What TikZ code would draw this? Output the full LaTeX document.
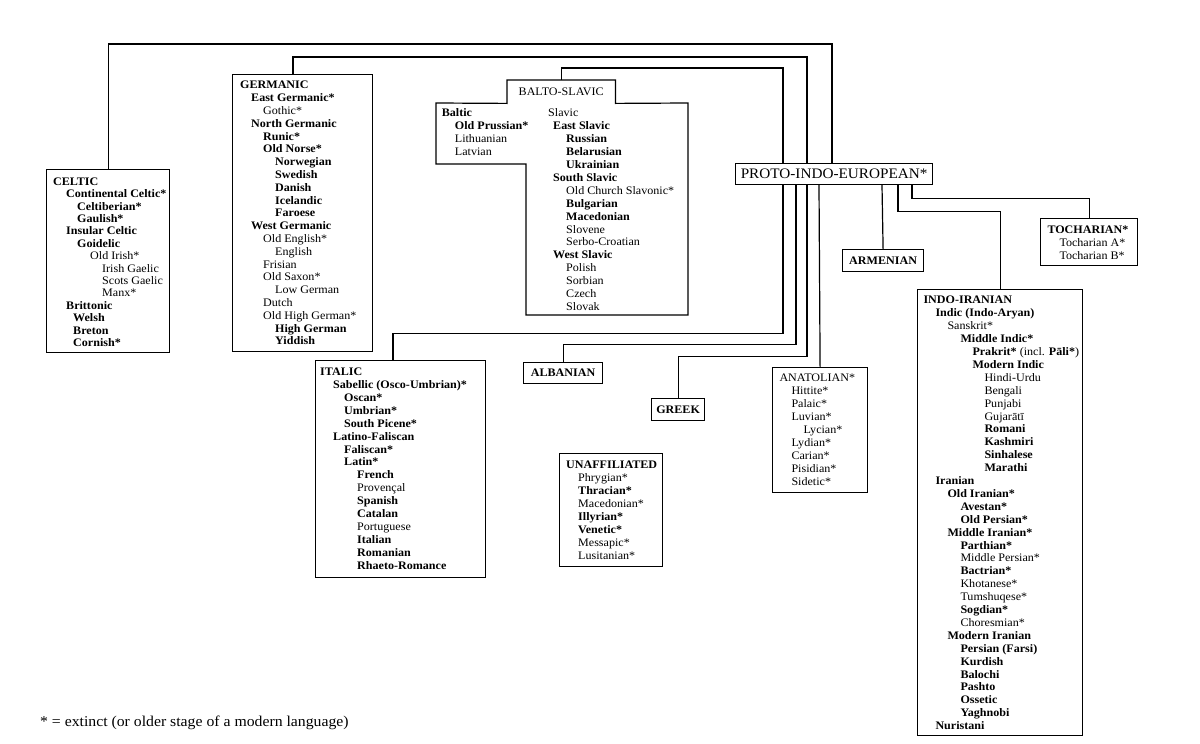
\documentclass[tikz,border=0pt]{standalone}
\usepackage{fontspec}
\setmainfont{Liberation Serif}[FakeStretch=1.05]
\newcommand\Ind[1]{\hspace*{#1pt}}
\begin{document}
\begin{tikzpicture}[x=1pt,y=-1pt,
  lbox/.style={draw,line width=1.2pt,inner sep=0pt,anchor=north west},
  lst/.style={anchor=north west,align=left,inner sep=0pt,font=\fontsize{11.5}{12.9}\selectfont},
  hbox/.style={draw,line width=1.2pt,inner sep=0pt,anchor=north west,font=\fontsize{11.5}{12.9}\selectfont\bfseries},
  conn/.style={line width=1.2pt}]
\useasboundingbox (0,0) rectangle (1200,744);

% PIE
\node[lbox,minimum width=197pt,minimum height=21pt,font=\fontsize{14.5}{16}\selectfont] (pie) at (735,163) {PROTO-INDO-EUROPEAN*};

% CELTIC
\node[lbox,minimum width=123pt,minimum height=183pt] (celtic) at (46,169) {};
\node[lst,font=\fontsize{11.5}{12.4}\selectfont] (celtict) at ([xshift=7pt,yshift=-7.4pt]celtic.north west) {\strut\textbf{CELTIC}\\
\Ind{13}\textbf{Continental Celtic*}\\
\Ind{24}\textbf{Celtiberian*}\\
\Ind{24}\textbf{Gaulish*}\\
\Ind{13}\textbf{Insular Celtic}\\
\Ind{24}\textbf{Goidelic}\\
\Ind{37}Old Irish*\\
\Ind{49}Irish Gaelic\\
\Ind{49}Scots Gaelic\\
\Ind{49}Manx*\\
\Ind{13}\textbf{Brittonic}\\
\Ind{20}\textbf{Welsh}\\
\Ind{20}\textbf{Breton}\\
\Ind{20}\textbf{Cornish*}};

% GERMANIC
\node[lbox,minimum width=140pt,minimum height=277pt] (germ) at (232,74) {};
\node[lst,font=\fontsize{11.5}{12.8}\selectfont] (germt) at ([xshift=8pt,yshift=-5.7pt]germ.north west) {\strut\textbf{GERMANIC}\\
\Ind{11}\textbf{East Germanic*}\\
\Ind{23}Gothic*\\
\Ind{11}\textbf{North Germanic}\\
\Ind{23}\textbf{Runic*}\\
\Ind{23}\textbf{Old Norse*}\\
\Ind{35}\textbf{Norwegian}\\
\Ind{35}\textbf{Swedish}\\
\Ind{35}\textbf{Danish}\\
\Ind{35}\textbf{Icelandic}\\
\Ind{35}\textbf{Faroese}\\
\Ind{11}\textbf{West Germanic}\\
\Ind{23}Old English*\\
\Ind{35}English\\
\Ind{23}Frisian\\
\Ind{23}Old Saxon*\\
\Ind{35}Low German\\
\Ind{23}Dutch\\
\Ind{23}Old High German*\\
\Ind{35}\textbf{High German}\\
\Ind{35}\textbf{Yiddish}};
\coordinate (gTop) at ([xshift=61pt]germ.north west);

% BALTO-SLAVIC
\node[inner sep=0pt,anchor=north west,minimum width=108pt,minimum height=23pt,font=\fontsize{11.5}{12.9}\selectfont] (bs) at (507,80) {BALTO-SLAVIC};
\draw[line width=1.2pt] (bs.north west) -- (bs.north east) -- (bs.south east) -- (688,103) -- (688,315) -- (526,315) -- (526,164) -- (436,164) -- (436,103) -- (bs.south west) -- cycle;
\node[lst] (baltic) at (441.7,107.7) {\strut\textbf{Baltic}\\
\Ind{13}\textbf{Old Prussian*}\\
\Ind{13}Lithuanian\\
\Ind{13}Latvian};
\node[lst] (slavic) at (548,107.7) {\strut Slavic\\
\Ind{5}\textbf{East Slavic}\\
\Ind{18}\textbf{Russian}\\
\Ind{18}\textbf{Belarusian}\\
\Ind{18}\textbf{Ukrainian}\\
\Ind{5}\textbf{South Slavic}\\
\Ind{18}Old Church Slavonic*\\
\Ind{18}\textbf{Bulgarian}\\
\Ind{18}\textbf{Macedonian}\\
\Ind{18}Slovene\\
\Ind{18}Serbo-Croatian\\
\Ind{5}\textbf{West Slavic}\\
\Ind{18}Polish\\
\Ind{18}Sorbian\\
\Ind{18}Czech\\
\Ind{18}Slovak};

% ARMENIAN
\node[hbox,minimum width=81pt,minimum height=22pt] (arm) at (842,249) {ARMENIAN};

% TOCHARIAN
\node[lbox,minimum width=97pt,minimum height=47pt] (toch) at (1040,218) {};
\node[lst] (tocht) at ([xshift=7.3pt,yshift=-6pt]toch.north west) {\strut\textbf{TOCHARIAN*}\\
\Ind{12}Tocharian A*\\
\Ind{12}Tocharian B*};

% INDO-IRANIAN
\node[lbox,minimum width=165pt,minimum height=446pt] (ii) at (917,289) {};
\node[lst] (iit) at ([xshift=6.3pt,yshift=-5.7pt]ii.north west) {\strut\textbf{INDO-IRANIAN}\\
\Ind{12}\textbf{Indic (Indo-Aryan)}\\
\Ind{24}Sanskrit*\\
\Ind{37}\textbf{Middle Indic*}\\
\Ind{49}\textbf{Prakrit*} (incl. \textbf{Pāli*})\\
\Ind{49}\textbf{Modern Indic}\\
\Ind{61}Hindi-Urdu\\
\Ind{61}Bengali\\
\Ind{61}Punjabi\\
\Ind{61}Gujarātī\\
\Ind{61}\textbf{Romani}\\
\Ind{61}\textbf{Kashmiri}\\
\Ind{61}\textbf{Sinhalese}\\
\Ind{61}\textbf{Marathi}\\
\Ind{12}\textbf{Iranian}\\
\Ind{24}\textbf{Old Iranian*}\\
\Ind{37}\textbf{Avestan*}\\
\Ind{37}\textbf{Old Persian*}\\
\Ind{24}\textbf{Middle Iranian*}\\
\Ind{37}\textbf{Parthian*}\\
\Ind{37}Middle Persian*\\
\Ind{37}\textbf{Bactrian*}\\
\Ind{37}Khotanese*\\
\Ind{37}Tumshuqese*\\
\Ind{37}\textbf{Sogdian*}\\
\Ind{37}Choresmian*\\
\Ind{24}\textbf{Modern Iranian}\\
\Ind{37}\textbf{Persian (Farsi)}\\
\Ind{37}\textbf{Kurdish}\\
\Ind{37}\textbf{Balochi}\\
\Ind{37}\textbf{Pashto}\\
\Ind{37}\textbf{Ossetic}\\
\Ind{37}\textbf{Yaghnobi}\\
\Ind{12}\textbf{Nuristani}};

% ITALIC
\node[lbox,minimum width=170pt,minimum height=217pt] (ital) at (315,360) {};
\node[lst] (italt) at ([xshift=5pt,yshift=-6.4pt]ital.north west) {\strut\textbf{ITALIC}\\
\Ind{13}\textbf{Sabellic (Osco-Umbrian)*}\\
\Ind{24}\textbf{Oscan*}\\
\Ind{24}\textbf{Umbrian*}\\
\Ind{24}\textbf{South Picene*}\\
\Ind{13}\textbf{Latino-Faliscan}\\
\Ind{24}\textbf{Faliscan*}\\
\Ind{24}\textbf{Latin*}\\
\Ind{37}\textbf{French}\\
\Ind{37}Provençal\\
\Ind{37}\textbf{Spanish}\\
\Ind{37}\textbf{Catalan}\\
\Ind{37}Portuguese\\
\Ind{37}\textbf{Italian}\\
\Ind{37}\textbf{Romanian}\\
\Ind{37}\textbf{Rhaeto-Romance}};
\coordinate (iTop) at ([xshift=78pt]ital.north west);

% ALBANIAN, GREEK
\node[hbox,minimum width=79pt,minimum height=21pt] (alb) at (523,362) {ALBANIAN};
\node[hbox,minimum width=53pt,minimum height=22pt] (grk) at (651,398) {GREEK};

% UNAFFILIATED
\node[lbox,minimum width=103pt,minimum height=113pt] (unaf) at (559,453) {};
\node[lst] (unaft) at ([xshift=7pt,yshift=-6.7pt]unaf.north west) {\strut\textbf{UNAFFILIATED}\\
\Ind{12}Phrygian*\\
\Ind{12}\textbf{Thracian*}\\
\Ind{12}Macedonian*\\
\Ind{12}\textbf{Illyrian*}\\
\Ind{12}\textbf{Venetic*}\\
\Ind{12}Messapic*\\
\Ind{12}Lusitanian*};

% ANATOLIAN
\node[lbox,minimum width=95pt,minimum height=125pt] (ana) at (772,367) {};
\node[lst] (anat) at ([xshift=7.3pt,yshift=-5.7pt]ana.north west) {\strut ANATOLIAN*\\
\Ind{12}Hittite*\\
\Ind{12}Palaic*\\
\Ind{12}Luvian*\\
\Ind{24}Lycian*\\
\Ind{12}Lydian*\\
\Ind{12}Carian*\\
\Ind{12}Pisidian*\\
\Ind{12}Sidetic*};

% footnote
\node[anchor=west,inner sep=0pt,font=\fontsize{15}{17}\selectfont] (note) at (40,723) {* = extinct (or older stage of a modern language)};

% connector points on PIE
\coordinate (pCe) at ([xshift=97pt]pie.north west);
\coordinate (pGe) at ([xshift=72pt]pie.north west);
\coordinate (pBs) at ([xshift=48pt]pie.north west);
\coordinate (pIt) at ([xshift=48pt]pie.south west);
\coordinate (pAl) at ([xshift=61pt]pie.south west);
\coordinate (pGr) at ([xshift=72pt]pie.south west);
\coordinate (pAn) at ([xshift=84pt]pie.south west);
\coordinate (pAr) at ([xshift=147pt]pie.south west);
\coordinate (pII) at ([xshift=163pt]pie.south west);
\coordinate (pTo) at ([xshift=177pt]pie.south west);

\draw[conn] (pCe) -- ++(0,-119) -| (celtic.north);
\draw[conn] (pGe) -- ++(0,-106) -| (gTop);
\draw[conn] (pBs) -- ++(0,-95) -| (bs.north);
\draw[conn] (pIt) -- ++(0,148) -| (iTop);
\draw[conn] (pAl) -- ++(0,159) -| (alb.north);
\draw[conn] (pGr) -- ++(0,171) -| (grk.north);
\draw[conn] (pAn) -- (ana.north);
\draw[conn] (pAr) -- (arm.north);
\draw[conn] (pII) -- ++(0,26) -| (ii.north);
\draw[conn] (pTo) -- ++(0,13) -| (toch.north);
\end{tikzpicture}
\end{document}
